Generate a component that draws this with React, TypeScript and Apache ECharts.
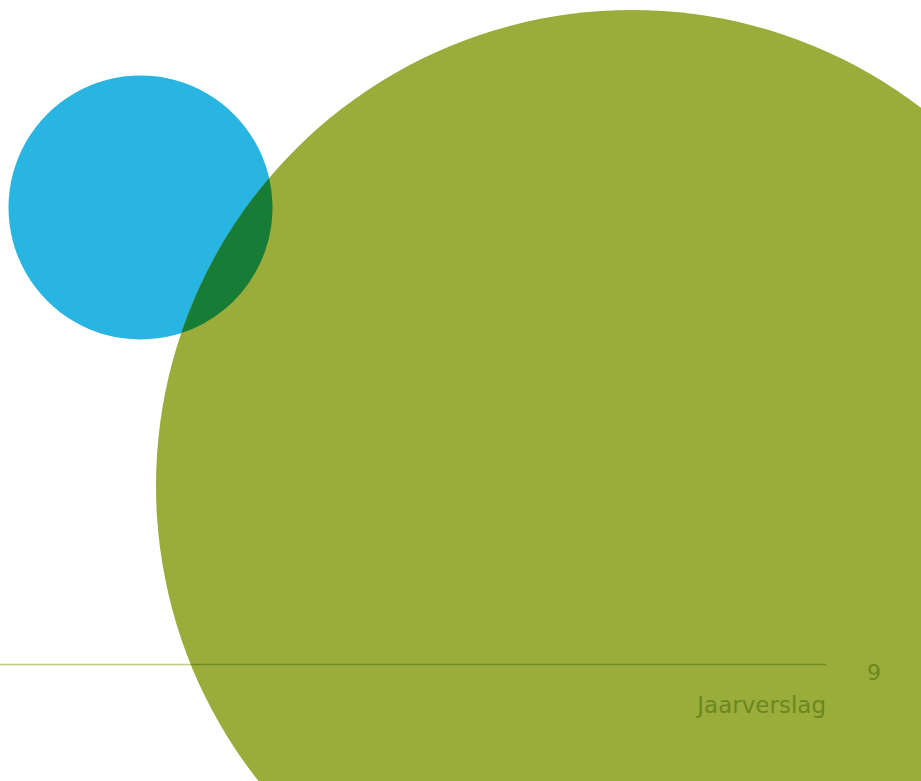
import React, { useEffect, useRef } from "react";
import * as echarts from "echarts";

// Decorative page elements (page coordinates in px)
const circleNames = ["blue", "green"];
const circleCenterX = [140.5, 632];
const circleCenterY = [207.5, 486];
const circleRadius = [132, 476];
const circleColors = ["#28b5e1", "#9aac3a"];
const overlapColor = "#177d36";

const pageNumber = "9";
const footerTitle = "Jaarverslag";

const ruleY = 664.5;
const ruleStartX = 0;
const ruleEndX = 826;

function intersect(x0: number, y0: number, r0: number, x1: number, y1: number, r1: number) {
  const dx = x1 - x0, dy = y1 - y0;
  const d = Math.sqrt(dx * dx + dy * dy);
  const a = (r0 * r0 - r1 * r1 + d * d) / (2 * d);
  const h = Math.sqrt(Math.max(0, r0 * r0 - a * a));
  const xm = x0 + (a * dx) / d, ym = y0 + (a * dy) / d;
  const p1 = [xm + (h * dy) / d, ym - (h * dx) / d];
  const p2 = [xm - (h * dy) / d, ym + (h * dx) / d];
  return [p1, p2];
}

export default function App() {
  const ref = useRef<HTMLDivElement>(null);
  useEffect(() => {
    if (!ref.current) return;
    const [b, g] = [0, 1];
    const pts = intersect(
      circleCenterX[b], circleCenterY[b], circleRadius[b],
      circleCenterX[g], circleCenterY[g], circleRadius[g]
    );
    const P1 = pts[0][1] < pts[1][1] ? pts[0] : pts[1];
    const P2 = pts[0][1] < pts[1][1] ? pts[1] : pts[0];
    const rb = circleRadius[b], rg = circleRadius[g];
    const d =
      `M${P1[0]} ${P1[1]} A${rb} ${rb} 0 0 1 ${P2[0]} ${P2[1]} ` +
      `A${rg} ${rg} 0 0 1 ${P1[0]} ${P1[1]} Z`;
    echarts.graphic.registerShape("lens", echarts.graphic.extendPath(d, {}) as any);

    const dyr = ruleY - circleCenterY[g];
    const edgeX = circleCenterX[g] - Math.sqrt(rg * rg - dyr * dyr);

    const chart = echarts.init(ref.current, null, { renderer: "svg" });
    chart.setOption({
      animation: false,
      backgroundColor: "#ffffff",
      graphic: [
        ...circleNames.map((n, i) => ({
          type: "circle",
          id: n,
          shape: { cx: circleCenterX[i], cy: circleCenterY[i], r: circleRadius[i] },
          style: { fill: circleColors[i] },
          silent: true,
        })),
        {
          type: "lens",
          x: 0,
          y: 0,
          scaleX: 1,
          scaleY: 1,
          style: { fill: overlapColor },
          silent: true,
        },
        {
          type: "line",
          shape: { x1: ruleStartX, y1: ruleY, x2: edgeX, y2: ruleY },
          style: { stroke: "#bccc7d", lineWidth: 1.6 },
        },
        {
          type: "line",
          shape: { x1: edgeX, y1: ruleY, x2: ruleEndX, y2: ruleY },
          style: { stroke: "#6f8a1f", lineWidth: 1.6 },
        },
        {
          type: "text",
          style: {
            text: pageNumber,
            x: 874,
            y: 672,
            fill: "#6b8720",
            font: "22px 'DejaVu Sans'",
            align: "center",
            verticalAlign: "middle",
          },
        },
        {
          type: "text",
          style: {
            text: footerTitle,
            x: 826,
            y: 705,
            fill: "#6b8720",
            font: "23px 'DejaVu Sans'",
            align: "right",
            verticalAlign: "middle",
          },
        },
      ],
    });
    return () => chart.dispose();
  }, []);
  return (
    <div
      ref={ref}
      style={{ position: "absolute", left: 0, top: 0, width: 921, height: 781, overflow: "hidden" }}
    />
  );
}
